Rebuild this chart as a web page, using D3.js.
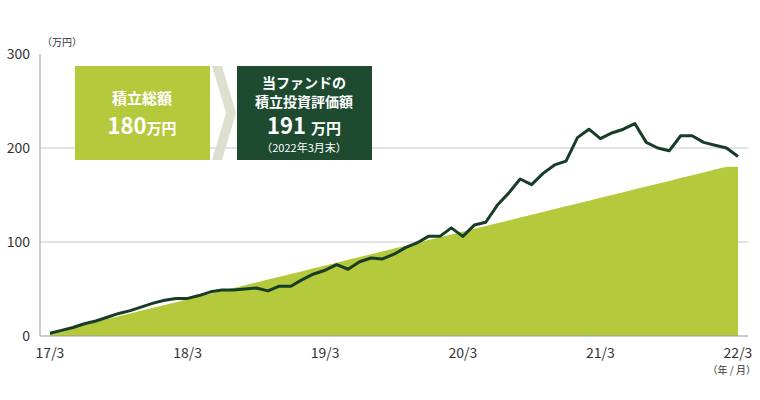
<!DOCTYPE html><html><head><meta charset="utf-8"><script src="https://cdn.jsdelivr.net/npm/d3@7"></script>
<style>body{margin:0;background:#fff}text{font-family:"Noto Sans CJK JP","Noto Sans",sans-serif}</style></head><body><svg width="760" height="400"></svg>
<script>
const xLabels=["17/3","18/3","19/3","20/3","21/3","22/3"];
const yTicks=[0,100,200,300];
const contrib=[3,6,9,12,15,18,21,24,27,30,33,36,39,42,45,48,51,54,57,60,63,66,69,72,75,78,81,84,87,90,93,96,99,102,105,108,111,114,117,120,123,126,129,132,135,138,141,144,147,150,153,156,159,162,165,168,171,174,177,180,180];
const value=[3,6,9,13,16,20,24,27,31,35,38,40,40,43,47,49,49,50,51,48,53,53,60,66,70,76,71,79,83,82,87,94,99,106,106,115,106,118,121,139,152,167,161,173,182,186,211,220,210,216,220,226,206,200,197,213,213,206,203,200,191];
const svg=d3.select("svg");
const x=d3.scaleLinear().domain([0,60]).range([50,738]);
const y=d3.scaleLinear().domain([0,300]).range([336,54]);
svg.selectAll(".g").data([100,200]).enter().append("line").attr("x1",40).attr("x2",748).attr("y1",d=>y(d)).attr("y2",d=>y(d)).attr("stroke","#c8c8c8");
svg.append("path").datum(contrib).attr("fill","#b5c93c").attr("d",d3.area().x((d,i)=>x(i)).y0(y(0)).y1(d=>y(d)));
svg.append("path").datum(value).attr("fill","none").attr("stroke","#173d27").attr("stroke-width",3).attr("stroke-linejoin","round").attr("d",d3.line().x((d,i)=>x(i)).y(d=>y(d)));
svg.append("line").attr("x1",40).attr("x2",40).attr("y1",54).attr("y2",336).attr("stroke","#999");
svg.append("line").attr("x1",40).attr("x2",748).attr("y1",336).attr("y2",336).attr("stroke","#999");
svg.selectAll(".yt").data(yTicks).enter().append("text").attr("x",30).attr("y",d=>y(d)+5).attr("text-anchor","end").attr("font-size",14).attr("fill","#333").text(d=>d);
svg.append("text").attr("x",42).attr("y",46).attr("font-size",10).attr("fill","#333").text("（万円）");
svg.selectAll(".xt").data(xLabels).enter().append("text").attr("x",(d,i)=>x(i*12)).attr("y",358).attr("text-anchor","middle").attr("font-size",14).attr("fill","#333").text(d=>d);
svg.append("text").attr("x",756).attr("y",374).attr("text-anchor","end").attr("font-size",10).attr("fill","#333").text("（年 / 月）");
svg.append("rect").attr("x",75).attr("y",66).attr("width",135).attr("height",94).attr("fill","#b5c93c");
svg.append("text").attr("x",142).attr("y",104).attr("text-anchor","middle").attr("font-size",15).attr("font-weight","bold").attr("fill","#fff").text("積立総額");
const t1=svg.append("text").attr("x",142).attr("y",134).attr("text-anchor","middle").attr("fill","#fff").attr("font-weight","bold");
t1.append("tspan").attr("font-size",22).text("180");t1.append("tspan").attr("font-size",15).text("万円");
svg.append("path").attr("d","M212,66 L222,66 L236,113 L222,160 L212,160 L226,113 Z").attr("fill","#dde0cf");
svg.append("rect").attr("x",237).attr("y",66).attr("width",135).attr("height",94).attr("fill","#1e4a30");
svg.append("text").attr("x",304).attr("y",88).attr("text-anchor","middle").attr("font-size",14).attr("font-weight","bold").attr("fill","#fff").text("当ファンドの");
svg.append("text").attr("x",304).attr("y",107).attr("text-anchor","middle").attr("font-size",14).attr("font-weight","bold").attr("fill","#fff").text("積立投資評価額");
const t2=svg.append("text").attr("x",304).attr("y",134).attr("text-anchor","middle").attr("fill","#fff").attr("font-weight","bold");
t2.append("tspan").attr("font-size",22).text("191 ");t2.append("tspan").attr("font-size",15).text("万円");
svg.append("text").attr("x",304).attr("y",152).attr("text-anchor","middle").attr("font-size",11).attr("fill","#fff").text("（2022年3月末）");
</script></body></html>
